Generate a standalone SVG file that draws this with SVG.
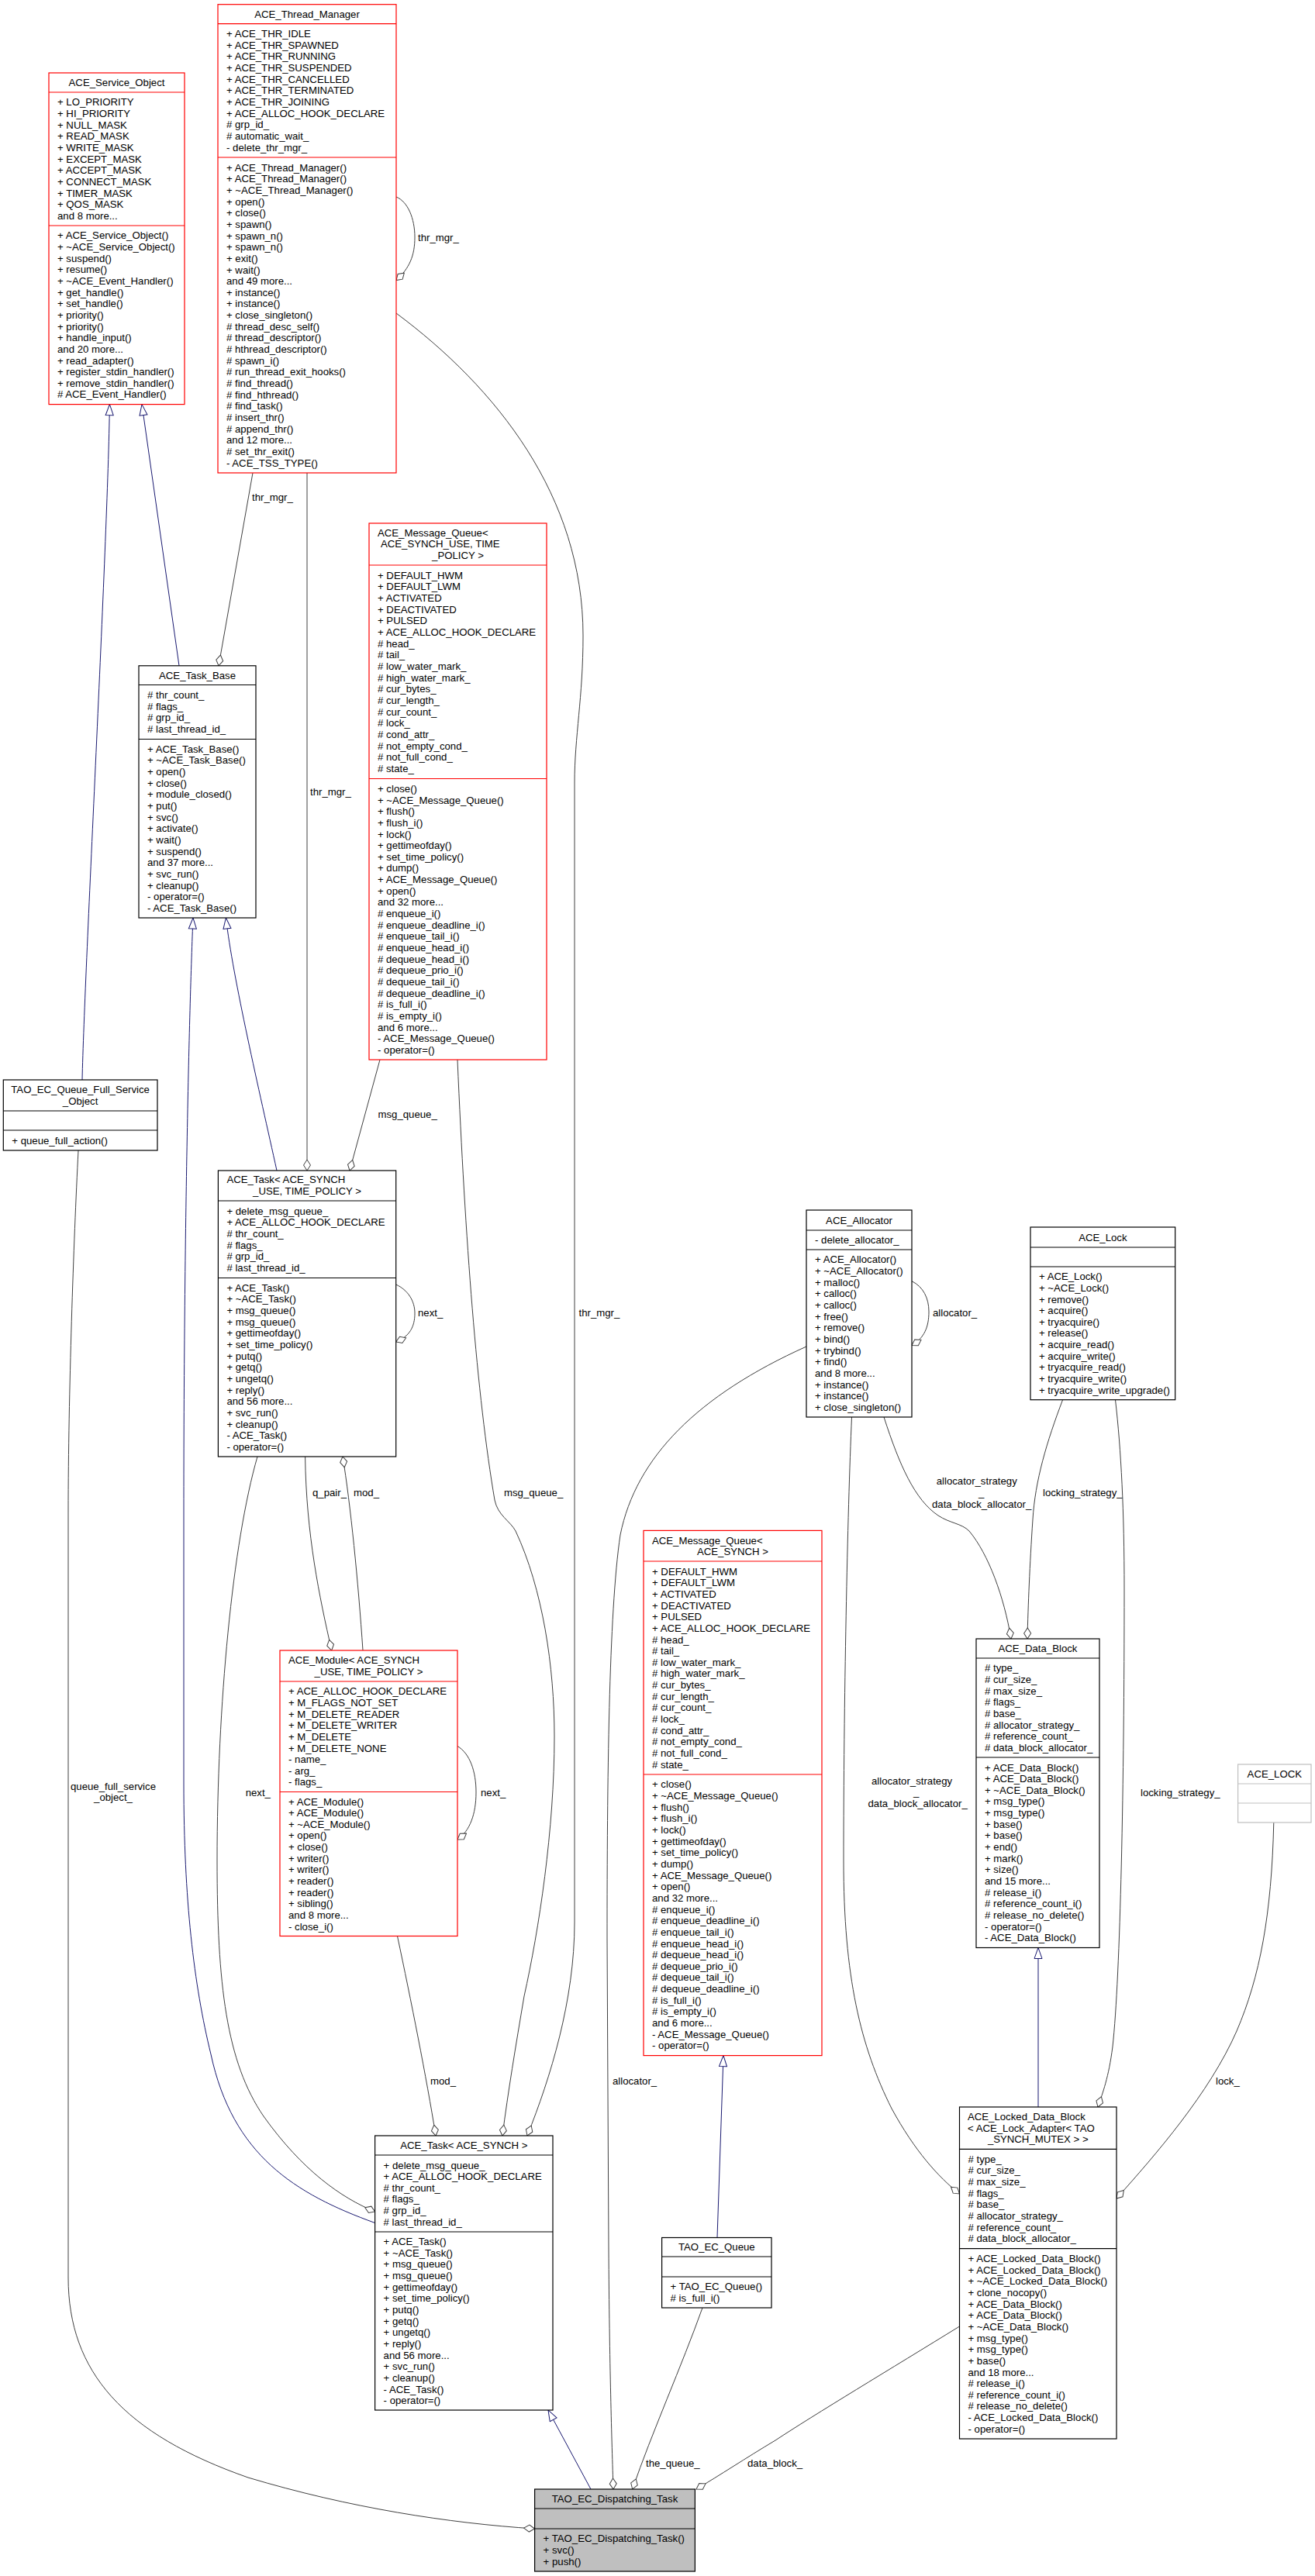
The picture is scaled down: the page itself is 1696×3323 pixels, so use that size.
<svg xmlns="http://www.w3.org/2000/svg" width="1696" height="3323" viewBox="0 0 1696 3323">
<defs>
<style>
text{font-family:"Liberation Sans",Arial,Helvetica,sans-serif;font-size:13.2px;fill:#000}
.c{text-anchor:middle}
.bk{fill:#fff;stroke:#000;stroke-width:1.2}
.rd{fill:#fff;stroke:#ff0000;stroke-width:1.2}
.gy{fill:#fff;stroke:#bfbfbf;stroke-width:1.2}
.gf{fill:#bfbfbf;stroke:#000;stroke-width:1.2}
.lk{stroke:#000;stroke-width:1.2}
.lr{stroke:#ff0000;stroke-width:1.2}
.lg{stroke:#bfbfbf;stroke-width:1.2}
.u{fill:none;stroke:#404040;stroke-width:1;marker-end:url(#dia)}
.h{fill:none;stroke:#191970;stroke-width:1;marker-end:url(#tri)}
</style>
<marker id="dia" markerUnits="userSpaceOnUse" markerWidth="16" markerHeight="12" viewBox="-1 -6 16 12" refX="14" refY="0" orient="auto"><path d="M0,0 L7,-4.5 L14,0 L7,4.5 Z" fill="#fff" stroke="#404040" stroke-width="1"/></marker>
<marker id="tri" markerUnits="userSpaceOnUse" markerWidth="16" markerHeight="12" viewBox="-1 -6 16 12" refX="14" refY="0" orient="auto"><path d="M0,-5 L14,0 L0,5 Z" fill="#fff" stroke="#191970" stroke-width="1"/></marker>
</defs>
<rect x="0" y="0" width="1696" height="3323" fill="#fff"/>

<g id="connectors">
<!-- inheritance -->
<path class="h" d="M106,1393 C109,1250 139,700 141.4,521.6"/>
<path class="h" d="M231,858.8 L183,521.6"/>
<path class="h" d="M357,1510 C335,1410 300,1260 291.4,1184"/>
<path class="h" d="M483.6,2867.5 C380,2830 300,2780 272,2650 C250,2560 237,2450 237,2300 L237,1950 C237,1600 244,1300 249,1184"/>
<path class="h" d="M1339,2718 L1339,2512.5"/>
<path class="h" d="M925,2886.5 L933,2651.6"/>
<path class="h" d="M762,3211 L707,3109"/>
<!-- usage -->
<path class="u" d="M326,610 L282,858.8"/>
<text x="325" y="645.5">thr_mgr_</text>
<path class="u" d="M396,610 L396,1510"/>
<text x="400" y="1025.5">thr_mgr_</text>
<path class="u" d="M511,254 C526,260 535,282 535,306 C535,330 528,346 511,361.6"/>
<text x="539" y="310.5">thr_mgr_</text>
<path class="u" d="M511,404 C640,500 752,640 752,820 C752,900 741,950 741,1010 L741,2480 C741,2580 710,2680 680,2755"/>
<text x="746.5" y="1697.5">thr_mgr_</text>
<path class="u" d="M490,1367 L451,1510"/>
<text x="487.5" y="1441.5">msg_queue_</text>
<path class="u" d="M510.7,1657 C526,1664 535,1678 535,1694 C535,1712 528,1724 510.7,1731"/>
<text x="539" y="1698">next_</text>
<path class="u" d="M393.6,1879 C395,1980 412,2060 427.7,2129"/>
<text x="403" y="1930">q_pair_</text>
<path class="u" d="M468,2129 C462,2040 452,1940 442,1879"/>
<text x="456" y="1930">mod_</text>
<path class="u" d="M332,1879 C300,1990 280,2200 280,2400 C280,2560 292,2660 340,2730 C390,2800 440,2835 483.6,2853"/>
<text x="316.7" y="2317">next_</text>
<path class="u" d="M590,2252.5 C606,2262 614,2285 614,2312 C614,2340 606,2362 590,2373"/>
<text x="620" y="2317">next_</text>
<path class="u" d="M512.5,2497.5 C530,2580 550,2680 562,2755"/>
<text x="555" y="2689">mod_</text>
<path class="u" d="M590,1367 C600,1600 615,1800 638,1935 C642,1955 658,1962 665,1975 C700,2050 715,2150 715,2240 C715,2360 695,2490 676,2575 C665,2640 655,2700 648,2755"/>
<text x="650" y="1929.5">msg_queue_</text>
<path class="u" d="M101,1484 C95,1600 88,1800 88,1950 L88,2938 C88,3060 160,3140 320,3196 C450,3235 580,3255 689.6,3262"/>
<text class="c" x="146" y="2308.6">queue_full_service</text>
<text class="c" x="146" y="2323.3">_object_</text>
<path class="u" d="M1040,1737 C900,1800 820,1880 800,1980 C785,2080 783,2300 783,2500 L785,2900 C786,3050 789,3150 791,3211"/>
<text x="790" y="2689">allocator_</text>
<path class="u" d="M1176,1652.7 C1191,1660 1198,1675 1198,1692 C1198,1712 1192,1726 1176,1735.5"/>
<text x="1203" y="1698">allocator_</text>
<path class="u" d="M1140,1828 C1160,1890 1180,1935 1210,1955 C1225,1965 1240,1965 1250,1975 C1275,2005 1295,2060 1304,2114"/>
<text x="1207.7" y="1915.2">allocator_strategy</text>
<text x="1262" y="1929.9">_</text>
<text x="1202" y="1944.6">data_block_allocator_</text>
<path class="u" d="M1098.5,1828 C1093,1950 1088,2200 1088,2400 C1088,2550 1110,2640 1150,2720 C1180,2775 1210,2808 1237.5,2830"/>
<text x="1124" y="2301.6">allocator_strategy</text>
<text x="1178" y="2316.3">_</text>
<text x="1119.5" y="2331">data_block_allocator_</text>
<path class="u" d="M1370.6,1805.7 C1350,1860 1335,1910 1332,1960 C1328,2020 1326,2070 1325,2114"/>
<text x="1345" y="1929.5">locking_strategy_</text>
<path class="u" d="M1438.5,1805.7 C1446,1870 1450,1950 1450,2050 C1450,2300 1445,2550 1435,2640 C1430,2680 1422,2700 1416,2718"/>
<text x="1471" y="2316.5">locking_strategy_</text>
<path class="u" d="M1642.8,2351 C1640,2470 1625,2550 1595,2620 C1560,2700 1490,2780 1440,2836"/>
<text x="1568" y="2688.5">lock_</text>
<path class="u" d="M906,2977 C880,3050 840,3140 815.7,3211"/>
<text x="833" y="3181.5">the_queue_</text>
<path class="u" d="M1237.5,3001 C1150,3055 1050,3115 1000,3148 C960,3172 930,3192 898,3211"/>
<text x="964" y="3181.5">data_block_</text>
</g>

<g id="node-ace-service-object">
<rect class="rd" x="63" y="94" width="175" height="427.6"/>
<line class="lr" x1="63" y1="119" x2="238" y2="119"/>
<line class="lr" x1="63" y1="291" x2="238" y2="291"/>
<text class="c" x="150.5" y="111.1">ACE_Service_Object</text>
<text x="74" y="136.35"><tspan x="74">+ LO_PRIORITY</tspan><tspan x="74" dy="14.65">+ HI_PRIORITY</tspan><tspan x="74" dy="14.65">+ NULL_MASK</tspan><tspan x="74" dy="14.65">+ READ_MASK</tspan><tspan x="74" dy="14.65">+ WRITE_MASK</tspan><tspan x="74" dy="14.65">+ EXCEPT_MASK</tspan><tspan x="74" dy="14.65">+ ACCEPT_MASK</tspan><tspan x="74" dy="14.65">+ CONNECT_MASK</tspan><tspan x="74" dy="14.65">+ TIMER_MASK</tspan><tspan x="74" dy="14.65">+ QOS_MASK</tspan><tspan x="74" dy="14.65">and 8 more...</tspan></text>
<text x="74" y="308.35"><tspan x="74">+ ACE_Service_Object()</tspan><tspan x="74" dy="14.65">+ ~ACE_Service_Object()</tspan><tspan x="74" dy="14.65">+ suspend()</tspan><tspan x="74" dy="14.65">+ resume()</tspan><tspan x="74" dy="14.65">+ ~ACE_Event_Handler()</tspan><tspan x="74" dy="14.65">+ get_handle()</tspan><tspan x="74" dy="14.65">+ set_handle()</tspan><tspan x="74" dy="14.65">+ priority()</tspan><tspan x="74" dy="14.65">+ priority()</tspan><tspan x="74" dy="14.65">+ handle_input()</tspan><tspan x="74" dy="14.65">and 20 more...</tspan><tspan x="74" dy="14.65">+ read_adapter()</tspan><tspan x="74" dy="14.65">+ register_stdin_handler()</tspan><tspan x="74" dy="14.65">+ remove_stdin_handler()</tspan><tspan x="74" dy="14.65"># ACE_Event_Handler()</tspan></text>
</g>

<g id="node-ace-thread-manager">
<rect class="rd" x="281" y="5.7" width="230" height="604.3"/>
<line class="lr" x1="281" y1="30.6" x2="511" y2="30.6"/>
<line class="lr" x1="281" y1="203" x2="511" y2="203"/>
<text class="c" x="396" y="22.75">ACE_Thread_Manager</text>
<text x="292" y="48.15"><tspan x="292">+ ACE_THR_IDLE</tspan><tspan x="292" dy="14.65">+ ACE_THR_SPAWNED</tspan><tspan x="292" dy="14.65">+ ACE_THR_RUNNING</tspan><tspan x="292" dy="14.65">+ ACE_THR_SUSPENDED</tspan><tspan x="292" dy="14.65">+ ACE_THR_CANCELLED</tspan><tspan x="292" dy="14.65">+ ACE_THR_TERMINATED</tspan><tspan x="292" dy="14.65">+ ACE_THR_JOINING</tspan><tspan x="292" dy="14.65">+ ACE_ALLOC_HOOK_DECLARE</tspan><tspan x="292" dy="14.65"># grp_id_</tspan><tspan x="292" dy="14.65"># automatic_wait_</tspan><tspan x="292" dy="14.65">- delete_thr_mgr_</tspan></text>
<text x="292" y="220.65"><tspan x="292">+ ACE_Thread_Manager()</tspan><tspan x="292" dy="14.65">+ ACE_Thread_Manager()</tspan><tspan x="292" dy="14.65">+ ~ACE_Thread_Manager()</tspan><tspan x="292" dy="14.65">+ open()</tspan><tspan x="292" dy="14.65">+ close()</tspan><tspan x="292" dy="14.65">+ spawn()</tspan><tspan x="292" dy="14.65">+ spawn_n()</tspan><tspan x="292" dy="14.65">+ spawn_n()</tspan><tspan x="292" dy="14.65">+ exit()</tspan><tspan x="292" dy="14.65">+ wait()</tspan><tspan x="292" dy="14.65">and 49 more...</tspan><tspan x="292" dy="14.65">+ instance()</tspan><tspan x="292" dy="14.65">+ instance()</tspan><tspan x="292" dy="14.65">+ close_singleton()</tspan><tspan x="292" dy="14.65"># thread_desc_self()</tspan><tspan x="292" dy="14.65"># thread_descriptor()</tspan><tspan x="292" dy="14.65"># hthread_descriptor()</tspan><tspan x="292" dy="14.65"># spawn_i()</tspan><tspan x="292" dy="14.65"># run_thread_exit_hooks()</tspan><tspan x="292" dy="14.65"># find_thread()</tspan><tspan x="292" dy="14.65"># find_hthread()</tspan><tspan x="292" dy="14.65"># find_task()</tspan><tspan x="292" dy="14.65"># insert_thr()</tspan><tspan x="292" dy="14.65"># append_thr()</tspan><tspan x="292" dy="14.65">and 12 more...</tspan><tspan x="292" dy="14.65"># set_thr_exit()</tspan><tspan x="292" dy="14.65">- ACE_TSS_TYPE()</tspan></text>
</g>

<g id="node-ace-task-base">
<rect class="bk" x="179" y="858.8" width="151" height="325.2"/>
<line class="lk" x1="179" y1="883.5" x2="330" y2="883.5"/>
<line class="lk" x1="179" y1="953.5" x2="330" y2="953.5"/>
<text class="c" x="254.5" y="875.75">ACE_Task_Base</text>
<text x="190" y="901.1"><tspan x="190"># thr_count_</tspan><tspan x="190" dy="14.65"># flags_</tspan><tspan x="190" dy="14.65"># grp_id_</tspan><tspan x="190" dy="14.65"># last_thread_id_</tspan></text>
<text x="190" y="970.8"><tspan x="190">+ ACE_Task_Base()</tspan><tspan x="190" dy="14.65">+ ~ACE_Task_Base()</tspan><tspan x="190" dy="14.65">+ open()</tspan><tspan x="190" dy="14.65">+ close()</tspan><tspan x="190" dy="14.65">+ module_closed()</tspan><tspan x="190" dy="14.65">+ put()</tspan><tspan x="190" dy="14.65">+ svc()</tspan><tspan x="190" dy="14.65">+ activate()</tspan><tspan x="190" dy="14.65">+ wait()</tspan><tspan x="190" dy="14.65">+ suspend()</tspan><tspan x="190" dy="14.65">and 37 more...</tspan><tspan x="190" dy="14.65">+ svc_run()</tspan><tspan x="190" dy="14.65">+ cleanup()</tspan><tspan x="190" dy="14.65">- operator=()</tspan><tspan x="190" dy="14.65">- ACE_Task_Base()</tspan></text>
</g>

<g id="node-ace-message-queue-use">
<rect class="rd" x="476" y="675" width="229" height="692"/>
<line class="lr" x1="476" y1="729" x2="705" y2="729"/>
<line class="lr" x1="476" y1="1004.5" x2="705" y2="1004.5"/>
<text x="487" y="691.5">ACE_Message_Queue&lt;</text>
<text x="491" y="706.15">ACE_SYNCH_USE, TIME</text>
<text class="c" x="590.5" y="720.8">_POLICY &gt;</text>
<text x="487" y="746.8"><tspan x="487">+ DEFAULT_HWM</tspan><tspan x="487" dy="14.65">+ DEFAULT_LWM</tspan><tspan x="487" dy="14.65">+ ACTIVATED</tspan><tspan x="487" dy="14.65">+ DEACTIVATED</tspan><tspan x="487" dy="14.65">+ PULSED</tspan><tspan x="487" dy="14.65">+ ACE_ALLOC_HOOK_DECLARE</tspan><tspan x="487" dy="14.65"># head_</tspan><tspan x="487" dy="14.65"># tail_</tspan><tspan x="487" dy="14.65"># low_water_mark_</tspan><tspan x="487" dy="14.65"># high_water_mark_</tspan><tspan x="487" dy="14.65"># cur_bytes_</tspan><tspan x="487" dy="14.65"># cur_length_</tspan><tspan x="487" dy="14.65"># cur_count_</tspan><tspan x="487" dy="14.65"># lock_</tspan><tspan x="487" dy="14.65"># cond_attr_</tspan><tspan x="487" dy="14.65"># not_empty_cond_</tspan><tspan x="487" dy="14.65"># not_full_cond_</tspan><tspan x="487" dy="14.65"># state_</tspan></text>
<text x="487" y="1021.9"><tspan x="487">+ close()</tspan><tspan x="487" dy="14.65">+ ~ACE_Message_Queue()</tspan><tspan x="487" dy="14.65">+ flush()</tspan><tspan x="487" dy="14.65">+ flush_i()</tspan><tspan x="487" dy="14.65">+ lock()</tspan><tspan x="487" dy="14.65">+ gettimeofday()</tspan><tspan x="487" dy="14.65">+ set_time_policy()</tspan><tspan x="487" dy="14.65">+ dump()</tspan><tspan x="487" dy="14.65">+ ACE_Message_Queue()</tspan><tspan x="487" dy="14.65">+ open()</tspan><tspan x="487" dy="14.65">and 32 more...</tspan><tspan x="487" dy="14.65"># enqueue_i()</tspan><tspan x="487" dy="14.65"># enqueue_deadline_i()</tspan><tspan x="487" dy="14.65"># enqueue_tail_i()</tspan><tspan x="487" dy="14.65"># enqueue_head_i()</tspan><tspan x="487" dy="14.65"># dequeue_head_i()</tspan><tspan x="487" dy="14.65"># dequeue_prio_i()</tspan><tspan x="487" dy="14.65"># dequeue_tail_i()</tspan><tspan x="487" dy="14.65"># dequeue_deadline_i()</tspan><tspan x="487" dy="14.65"># is_full_i()</tspan><tspan x="487" dy="14.65"># is_empty_i()</tspan><tspan x="487" dy="14.65">and 6 more...</tspan><tspan x="487" dy="14.65">- ACE_Message_Queue()</tspan><tspan x="487" dy="14.65">- operator=()</tspan></text>
</g>

<g id="node-tao-ec-queue-full-service-object">
<rect class="bk" x="4.3" y="1393" width="198.7" height="91"/>
<line class="lk" x1="4.3" y1="1433" x2="203" y2="1433"/>
<line class="lk" x1="4.3" y1="1458" x2="203" y2="1458"/>
<text class="c" x="103.6" y="1410.3">TAO_EC_Queue_Full_Service</text>
<text class="c" x="103.6" y="1424.95">_Object</text>
<text x="15.3" y="1475.6">+ queue_full_action()</text>
</g>

<g id="node-ace-task-use">
<rect class="bk" x="281.4" y="1510" width="229.3" height="369"/>
<line class="lk" x1="281.4" y1="1549" x2="510.7" y2="1549"/>
<line class="lk" x1="281.4" y1="1648.5" x2="510.7" y2="1648.5"/>
<text x="292.4" y="1526.4">ACE_Task&lt; ACE_SYNCH</text>
<text class="c" x="396" y="1541.05">_USE, TIME_POLICY &gt;</text>
<text x="292.4" y="1566.7"><tspan x="292.4">+ delete_msg_queue_</tspan><tspan x="292.4" dy="14.65">+ ACE_ALLOC_HOOK_DECLARE</tspan><tspan x="292.4" dy="14.65"># thr_count_</tspan><tspan x="292.4" dy="14.65"># flags_</tspan><tspan x="292.4" dy="14.65"># grp_id_</tspan><tspan x="292.4" dy="14.65"># last_thread_id_</tspan></text>
<text x="292.4" y="1665.8"><tspan x="292.4">+ ACE_Task()</tspan><tspan x="292.4" dy="14.65">+ ~ACE_Task()</tspan><tspan x="292.4" dy="14.65">+ msg_queue()</tspan><tspan x="292.4" dy="14.65">+ msg_queue()</tspan><tspan x="292.4" dy="14.65">+ gettimeofday()</tspan><tspan x="292.4" dy="14.65">+ set_time_policy()</tspan><tspan x="292.4" dy="14.65">+ putq()</tspan><tspan x="292.4" dy="14.65">+ getq()</tspan><tspan x="292.4" dy="14.65">+ ungetq()</tspan><tspan x="292.4" dy="14.65">+ reply()</tspan><tspan x="292.4" dy="14.65">and 56 more...</tspan><tspan x="292.4" dy="14.65">+ svc_run()</tspan><tspan x="292.4" dy="14.65">+ cleanup()</tspan><tspan x="292.4" dy="14.65">- ACE_Task()</tspan><tspan x="292.4" dy="14.65">- operator=()</tspan></text>
</g>

<g id="node-ace-module">
<rect class="rd" x="361" y="2129" width="229" height="368.5"/>
<line class="lr" x1="361" y1="2169" x2="590" y2="2169"/>
<line class="lr" x1="361" y1="2311.5" x2="590" y2="2311.5"/>
<text x="372" y="2146.3">ACE_Module&lt; ACE_SYNCH</text>
<text class="c" x="475.5" y="2160.95">_USE, TIME_POLICY &gt;</text>
<text x="372" y="2186.25"><tspan x="372">+ ACE_ALLOC_HOOK_DECLARE</tspan><tspan x="372" dy="14.65">+ M_FLAGS_NOT_SET</tspan><tspan x="372" dy="14.65">+ M_DELETE_READER</tspan><tspan x="372" dy="14.65">+ M_DELETE_WRITER</tspan><tspan x="372" dy="14.65">+ M_DELETE</tspan><tspan x="372" dy="14.65">+ M_DELETE_NONE</tspan><tspan x="372" dy="14.65">- name_</tspan><tspan x="372" dy="14.65">- arg_</tspan><tspan x="372" dy="14.65">- flags_</tspan></text>
<text x="372" y="2328.5"><tspan x="372">+ ACE_Module()</tspan><tspan x="372" dy="14.65">+ ACE_Module()</tspan><tspan x="372" dy="14.65">+ ~ACE_Module()</tspan><tspan x="372" dy="14.65">+ open()</tspan><tspan x="372" dy="14.65">+ close()</tspan><tspan x="372" dy="14.65">+ writer()</tspan><tspan x="372" dy="14.65">+ writer()</tspan><tspan x="372" dy="14.65">+ reader()</tspan><tspan x="372" dy="14.65">+ reader()</tspan><tspan x="372" dy="14.65">+ sibling()</tspan><tspan x="372" dy="14.65">and 8 more...</tspan><tspan x="372" dy="14.65">- close_i()</tspan></text>
</g>

<g id="node-ace-task-synch">
<rect class="bk" x="483.6" y="2755" width="229.4" height="354"/>
<line class="lk" x1="483.6" y1="2780" x2="713" y2="2780"/>
<line class="lk" x1="483.6" y1="2879" x2="713" y2="2879"/>
<text class="c" x="598.3" y="2772.1">ACE_Task&lt; ACE_SYNCH &gt;</text>
<text x="494.6" y="2797.5"><tspan x="494.6">+ delete_msg_queue_</tspan><tspan x="494.6" dy="14.65">+ ACE_ALLOC_HOOK_DECLARE</tspan><tspan x="494.6" dy="14.65"># thr_count_</tspan><tspan x="494.6" dy="14.65"># flags_</tspan><tspan x="494.6" dy="14.65"># grp_id_</tspan><tspan x="494.6" dy="14.65"># last_thread_id_</tspan></text>
<text x="494.6" y="2896.05"><tspan x="494.6">+ ACE_Task()</tspan><tspan x="494.6" dy="14.65">+ ~ACE_Task()</tspan><tspan x="494.6" dy="14.65">+ msg_queue()</tspan><tspan x="494.6" dy="14.65">+ msg_queue()</tspan><tspan x="494.6" dy="14.65">+ gettimeofday()</tspan><tspan x="494.6" dy="14.65">+ set_time_policy()</tspan><tspan x="494.6" dy="14.65">+ putq()</tspan><tspan x="494.6" dy="14.65">+ getq()</tspan><tspan x="494.6" dy="14.65">+ ungetq()</tspan><tspan x="494.6" dy="14.65">+ reply()</tspan><tspan x="494.6" dy="14.65">and 56 more...</tspan><tspan x="494.6" dy="14.65">+ svc_run()</tspan><tspan x="494.6" dy="14.65">+ cleanup()</tspan><tspan x="494.6" dy="14.65">- ACE_Task()</tspan><tspan x="494.6" dy="14.65">- operator=()</tspan></text>
</g>

<g id="node-tao-ec-dispatching-task">
<rect class="gf" x="689.6" y="3211" width="206.8" height="106"/>
<line class="lk" x1="689.6" y1="3236" x2="896.4" y2="3236"/>
<line class="lk" x1="689.6" y1="3262" x2="896.4" y2="3262"/>
<text class="c" x="793" y="3228.1">TAO_EC_Dispatching_Task</text>
<text x="700.6" y="3279.45"><tspan x="700.6">+ TAO_EC_Dispatching_Task()</tspan><tspan x="700.6" dy="14.65">+ svc()</tspan><tspan x="700.6" dy="14.65">+ push()</tspan></text>
</g>

<g id="node-ace-allocator">
<rect class="bk" x="1040" y="1561" width="136" height="267"/>
<line class="lk" x1="1040" y1="1587" x2="1176" y2="1587"/>
<line class="lk" x1="1040" y1="1612" x2="1176" y2="1612"/>
<text class="c" x="1108" y="1578.6">ACE_Allocator</text>
<text x="1051" y="1604.1">- delete_allocator_</text>
<text x="1051" y="1629.4"><tspan x="1051">+ ACE_Allocator()</tspan><tspan x="1051" dy="14.65">+ ~ACE_Allocator()</tspan><tspan x="1051" dy="14.65">+ malloc()</tspan><tspan x="1051" dy="14.65">+ calloc()</tspan><tspan x="1051" dy="14.65">+ calloc()</tspan><tspan x="1051" dy="14.65">+ free()</tspan><tspan x="1051" dy="14.65">+ remove()</tspan><tspan x="1051" dy="14.65">+ bind()</tspan><tspan x="1051" dy="14.65">+ trybind()</tspan><tspan x="1051" dy="14.65">+ find()</tspan><tspan x="1051" dy="14.65">and 8 more...</tspan><tspan x="1051" dy="14.65">+ instance()</tspan><tspan x="1051" dy="14.65">+ instance()</tspan><tspan x="1051" dy="14.65">+ close_singleton()</tspan></text>
</g>

<g id="node-ace-lock">
<rect class="bk" x="1329" y="1583" width="186.7" height="222.7"/>
<line class="lk" x1="1329" y1="1609" x2="1515.7" y2="1609"/>
<line class="lk" x1="1329" y1="1634" x2="1515.7" y2="1634"/>
<text class="c" x="1422.35" y="1600.6">ACE_Lock</text>
<text x="1340" y="1651.2"><tspan x="1340">+ ACE_Lock()</tspan><tspan x="1340" dy="14.65">+ ~ACE_Lock()</tspan><tspan x="1340" dy="14.65">+ remove()</tspan><tspan x="1340" dy="14.65">+ acquire()</tspan><tspan x="1340" dy="14.65">+ tryacquire()</tspan><tspan x="1340" dy="14.65">+ release()</tspan><tspan x="1340" dy="14.65">+ acquire_read()</tspan><tspan x="1340" dy="14.65">+ acquire_write()</tspan><tspan x="1340" dy="14.65">+ tryacquire_read()</tspan><tspan x="1340" dy="14.65">+ tryacquire_write()</tspan><tspan x="1340" dy="14.65">+ tryacquire_write_upgrade()</tspan></text>
</g>

<g id="node-ace-message-queue-synch">
<rect class="rd" x="830" y="1974.4" width="230" height="677.2"/>
<line class="lr" x1="830" y1="2014" x2="1060" y2="2014"/>
<line class="lr" x1="830" y1="2289" x2="1060" y2="2289"/>
<text x="841" y="1991.5">ACE_Message_Queue&lt;</text>
<text class="c" x="945" y="2006.15">ACE_SYNCH &gt;</text>
<text x="841" y="2031.6"><tspan x="841">+ DEFAULT_HWM</tspan><tspan x="841" dy="14.65">+ DEFAULT_LWM</tspan><tspan x="841" dy="14.65">+ ACTIVATED</tspan><tspan x="841" dy="14.65">+ DEACTIVATED</tspan><tspan x="841" dy="14.65">+ PULSED</tspan><tspan x="841" dy="14.65">+ ACE_ALLOC_HOOK_DECLARE</tspan><tspan x="841" dy="14.65"># head_</tspan><tspan x="841" dy="14.65"># tail_</tspan><tspan x="841" dy="14.65"># low_water_mark_</tspan><tspan x="841" dy="14.65"># high_water_mark_</tspan><tspan x="841" dy="14.65"># cur_bytes_</tspan><tspan x="841" dy="14.65"># cur_length_</tspan><tspan x="841" dy="14.65"># cur_count_</tspan><tspan x="841" dy="14.65"># lock_</tspan><tspan x="841" dy="14.65"># cond_attr_</tspan><tspan x="841" dy="14.65"># not_empty_cond_</tspan><tspan x="841" dy="14.65"># not_full_cond_</tspan><tspan x="841" dy="14.65"># state_</tspan></text>
<text x="841" y="2306.4"><tspan x="841">+ close()</tspan><tspan x="841" dy="14.65">+ ~ACE_Message_Queue()</tspan><tspan x="841" dy="14.65">+ flush()</tspan><tspan x="841" dy="14.65">+ flush_i()</tspan><tspan x="841" dy="14.65">+ lock()</tspan><tspan x="841" dy="14.65">+ gettimeofday()</tspan><tspan x="841" dy="14.65">+ set_time_policy()</tspan><tspan x="841" dy="14.65">+ dump()</tspan><tspan x="841" dy="14.65">+ ACE_Message_Queue()</tspan><tspan x="841" dy="14.65">+ open()</tspan><tspan x="841" dy="14.65">and 32 more...</tspan><tspan x="841" dy="14.65"># enqueue_i()</tspan><tspan x="841" dy="14.65"># enqueue_deadline_i()</tspan><tspan x="841" dy="14.65"># enqueue_tail_i()</tspan><tspan x="841" dy="14.65"># enqueue_head_i()</tspan><tspan x="841" dy="14.65"># dequeue_head_i()</tspan><tspan x="841" dy="14.65"># dequeue_prio_i()</tspan><tspan x="841" dy="14.65"># dequeue_tail_i()</tspan><tspan x="841" dy="14.65"># dequeue_deadline_i()</tspan><tspan x="841" dy="14.65"># is_full_i()</tspan><tspan x="841" dy="14.65"># is_empty_i()</tspan><tspan x="841" dy="14.65">and 6 more...</tspan><tspan x="841" dy="14.65">- ACE_Message_Queue()</tspan><tspan x="841" dy="14.65">- operator=()</tspan></text>
</g>

<g id="node-ace-data-block">
<rect class="bk" x="1259" y="2114" width="159" height="398.5"/>
<line class="lk" x1="1259" y1="2139" x2="1418" y2="2139"/>
<line class="lk" x1="1259" y1="2267" x2="1418" y2="2267"/>
<text class="c" x="1338.5" y="2131.1">ACE_Data_Block</text>
<text x="1270" y="2156.3"><tspan x="1270"># type_</tspan><tspan x="1270" dy="14.65"># cur_size_</tspan><tspan x="1270" dy="14.65"># max_size_</tspan><tspan x="1270" dy="14.65"># flags_</tspan><tspan x="1270" dy="14.65"># base_</tspan><tspan x="1270" dy="14.65"># allocator_strategy_</tspan><tspan x="1270" dy="14.65"># reference_count_</tspan><tspan x="1270" dy="14.65"># data_block_allocator_</tspan></text>
<text x="1270" y="2284.5"><tspan x="1270">+ ACE_Data_Block()</tspan><tspan x="1270" dy="14.65">+ ACE_Data_Block()</tspan><tspan x="1270" dy="14.65">+ ~ACE_Data_Block()</tspan><tspan x="1270" dy="14.65">+ msg_type()</tspan><tspan x="1270" dy="14.65">+ msg_type()</tspan><tspan x="1270" dy="14.65">+ base()</tspan><tspan x="1270" dy="14.65">+ base()</tspan><tspan x="1270" dy="14.65">+ end()</tspan><tspan x="1270" dy="14.65">+ mark()</tspan><tspan x="1270" dy="14.65">+ size()</tspan><tspan x="1270" dy="14.65">and 15 more...</tspan><tspan x="1270" dy="14.65"># release_i()</tspan><tspan x="1270" dy="14.65"># reference_count_i()</tspan><tspan x="1270" dy="14.65"># release_no_delete()</tspan><tspan x="1270" dy="14.65">- operator=()</tspan><tspan x="1270" dy="14.65">- ACE_Data_Block()</tspan></text>
</g>

<g id="node-ace-locked-data-block">
<rect class="bk" x="1237.5" y="2718" width="202.5" height="428"/>
<line class="lk" x1="1237.5" y1="2772.4" x2="1440" y2="2772.4"/>
<line class="lk" x1="1237.5" y1="2900.6" x2="1440" y2="2900.6"/>
<text x="1248" y="2735.15">ACE_Locked_Data_Block</text>
<text x="1248" y="2749.8">&lt; ACE_Lock_Adapter&lt; TAO</text>
<text class="c" x="1338.75" y="2764.45">_SYNCH_MUTEX &gt; &gt;</text>
<text x="1248.5" y="2789.8"><tspan x="1248.5"># type_</tspan><tspan x="1248.5" dy="14.65"># cur_size_</tspan><tspan x="1248.5" dy="14.65"># max_size_</tspan><tspan x="1248.5" dy="14.65"># flags_</tspan><tspan x="1248.5" dy="14.65"># base_</tspan><tspan x="1248.5" dy="14.65"># allocator_strategy_</tspan><tspan x="1248.5" dy="14.65"># reference_count_</tspan><tspan x="1248.5" dy="14.65"># data_block_allocator_</tspan></text>
<text x="1248.5" y="2918"><tspan x="1248.5">+ ACE_Locked_Data_Block()</tspan><tspan x="1248.5" dy="14.65">+ ACE_Locked_Data_Block()</tspan><tspan x="1248.5" dy="14.65">+ ~ACE_Locked_Data_Block()</tspan><tspan x="1248.5" dy="14.65">+ clone_nocopy()</tspan><tspan x="1248.5" dy="14.65">+ ACE_Data_Block()</tspan><tspan x="1248.5" dy="14.65">+ ACE_Data_Block()</tspan><tspan x="1248.5" dy="14.65">+ ~ACE_Data_Block()</tspan><tspan x="1248.5" dy="14.65">+ msg_type()</tspan><tspan x="1248.5" dy="14.65">+ msg_type()</tspan><tspan x="1248.5" dy="14.65">+ base()</tspan><tspan x="1248.5" dy="14.65">and 18 more...</tspan><tspan x="1248.5" dy="14.65"># release_i()</tspan><tspan x="1248.5" dy="14.65"># reference_count_i()</tspan><tspan x="1248.5" dy="14.65"># release_no_delete()</tspan><tspan x="1248.5" dy="14.65">- ACE_Locked_Data_Block()</tspan><tspan x="1248.5" dy="14.65">- operator=()</tspan></text>
</g>

<g id="node-tao-ec-queue">
<rect class="bk" x="853.6" y="2886.5" width="141.4" height="90.5"/>
<line class="lk" x1="853.6" y1="2911" x2="995" y2="2911"/>
<line class="lk" x1="853.6" y1="2937" x2="995" y2="2937"/>
<text class="c" x="924.3" y="2903.35">TAO_EC_Queue</text>
<text x="864.6" y="2954.3"><tspan x="864.6">+ TAO_EC_Queue()</tspan><tspan x="864.6" dy="14.65"># is_full_i()</tspan></text>
</g>

<g id="node-ace-lock-upper">
<rect class="gy" x="1596.6" y="2276" width="94.4" height="75"/>
<line class="lg" x1="1596.6" y1="2301" x2="1691" y2="2301"/>
<line class="lg" x1="1596.6" y1="2326" x2="1691" y2="2326"/>
<text class="c" x="1643.8" y="2293.1">ACE_LOCK</text>
</g>
</svg>
